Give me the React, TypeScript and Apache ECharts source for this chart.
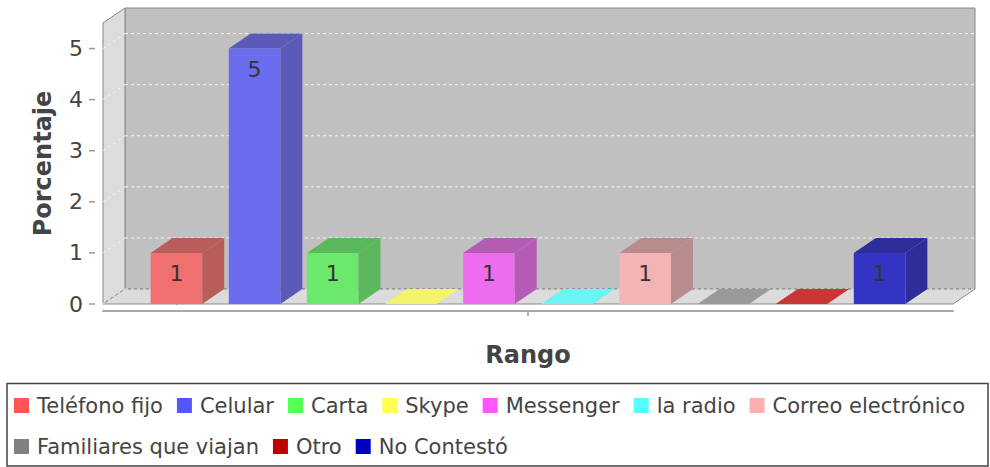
import React, { useEffect, useRef } from "react";
import * as echarts from "echarts";

const SERIES_NAMES = [
  "Teléfono fijo",
  "Celular",
  "Carta",
  "Skype",
  "Messenger",
  "la radio",
  "Correo electrónico",
  "Familiares que viajan",
  "Otro",
  "No Contestó",
];
const VALUES = [1, 5, 1, 0, 1, 0, 1, 0, 0, 1];
const Y_TICKS = [0, 1, 2, 3, 4, 5];
const X_TITLE = "Rango";
const Y_TITLE = "Porcentaje";

const LEGEND_COLORS = ["#FF5555", "#5555FF", "#55FF55", "#FFFF55", "#FF55FF", "#55FFFF", "#FFAFAF", "#808080", "#C00000", "#0000C0"];
const FRONT_COLORS = ["#F07070", "#6C6CF0", "#6CE86C", "#F4F46C", "#EE6CEE", "#6CF4F4", "#F2B4B4", "#9A9A9A", "#C83636", "#3434C4"];
const DARK_COLORS = ["#B85C5C", "#5A5AB8", "#5CB85C", "#B8B85C", "#B45CB4", "#5CB8B8", "#B88C8C", "#7A7A7A", "#9A2E2E", "#2E2E9A"];

const XMIN = -0.94;
const XMAX = 9.94;
const YMAX = 5.5;
const DX = 22;
const DY = -15;
const HALF_W = 0.33;
const FONT = "DejaVu Sans";

export default function App() {
  const ref = useRef<HTMLDivElement>(null);
  useEffect(() => {
    const chart = echarts.init(ref.current!, null, { renderer: "svg" });

    const wallSeries: any = {
      type: "custom",
      z: 1,
      silent: true,
      data: [[0, 0]],
      renderItem: (params: any, api: any) => {
        const fl = api.coord([XMIN, 0]);
        const tr = api.coord([XMAX, YMAX]);
        const children: any[] = [];
        children.push({
          type: "rect",
          shape: { x: fl[0] + DX, y: tr[1] + DY, width: tr[0] - fl[0], height: fl[1] - tr[1] },
          style: { fill: "#C0C0C0", stroke: "#888", lineWidth: 1 },
        });
        children.push({
          type: "polygon",
          shape: { points: [[fl[0], tr[1]], [fl[0] + DX, tr[1] + DY], [fl[0] + DX, fl[1] + DY], [fl[0], fl[1]]] },
          style: { fill: "#DCDCDC", stroke: "#888", lineWidth: 1 },
        });
        children.push({
          type: "polygon",
          shape: { points: [[fl[0], fl[1]], [fl[0] + DX, fl[1] + DY], [tr[0] + DX, fl[1] + DY], [tr[0], fl[1]]] },
          style: { fill: "#DCDCDC", stroke: "#888", lineWidth: 1 },
        });
        Y_TICKS.forEach((v) => {
          const y = api.coord([XMIN, v])[1];
          children.push({
            type: "line",
            shape: { x1: fl[0] + DX, y1: y + DY, x2: tr[0] + DX, y2: y + DY },
            style: { stroke: "#F4F4F4", lineWidth: 1, lineDash: [3, 3] },
          });
          children.push({
            type: "line",
            shape: { x1: fl[0], y1: y, x2: fl[0] + DX, y2: y + DY },
            style: { stroke: "#F4F4F4", lineWidth: 1, lineDash: [3, 3] },
          });
          children.push({
            type: "line",
            shape: { x1: fl[0] - 14, y1: y, x2: fl[0] - 8, y2: y },
            style: { stroke: "#999", lineWidth: 1.5 },
          });
        });
        const cx = api.coord([(XMIN + XMAX) / 2, 0])[0];
        children.push({
          type: "line",
          shape: { x1: cx, y1: fl[1] + 7, x2: cx, y2: fl[1] + 12 },
          style: { stroke: "#999", lineWidth: 1.5 },
        });
        return { type: "group", children };
      },
    };

    const barSeries = SERIES_NAMES.map((name, i) => ({
      type: "custom",
      name,
      z: 2,
      itemStyle: { color: LEGEND_COLORS[i] },
      data: [[i, VALUES[i]]],
      renderItem: (params: any, api: any) => {
        const x = api.value(0);
        const v = api.value(1);
        const p0 = api.coord([x - HALF_W, 0]);
        const p1 = api.coord([x + HALF_W, v]);
        const children: any[] = [];
        if (v > 0) {
          children.push({
            type: "rect",
            shape: { x: p0[0], y: p1[1], width: p1[0] - p0[0], height: p0[1] - p1[1] },
            style: { fill: FRONT_COLORS[i] },
          });
          children.push({
            type: "polygon",
            shape: { points: [[p1[0], p1[1]], [p1[0] + DX, p1[1] + DY], [p1[0] + DX, p0[1] + DY], [p1[0], p0[1]]] },
            style: { fill: DARK_COLORS[i] },
          });
        }
        children.push({
          type: "polygon",
          shape: { points: [[p0[0], p1[1]], [p0[0] + DX, p1[1] + DY], [p1[0] + DX, p1[1] + DY], [p1[0], p1[1]]] },
          style: { fill: v > 0 ? DARK_COLORS[i] : FRONT_COLORS[i] },
        });
        if (v > 0) {
          children.push({
            type: "text",
            style: {
              text: String(v),
              x: (p0[0] + p1[0]) / 2,
              y: p1[1] + 21,
              align: "center",
              verticalAlign: "middle",
              fill: "#333",
              font: `22px '${FONT}'`,
            },
          });
        }
        return { type: "group", children };
      },
    }));

    const legendCommon = {
      orient: "horizontal",
      left: 14,
      width: 975,
      padding: 0,
      itemWidth: 15,
      itemHeight: 15,
      itemGap: 14,
      icon: "rect",
      selectedMode: false,
      textStyle: { fontSize: 21, color: "#444", fontFamily: FONT, padding: [0, 0, 0, 3] },
    };

    chart.setOption({
      animation: false,
      backgroundColor: "#fff",
      grid: { left: 103, right: 37, top: 23, bottom: 163 },
      xAxis: {
        type: "value",
        min: XMIN,
        max: XMAX,
        offset: 7,
        axisLine: { show: true, onZero: false, lineStyle: { color: "#A8A8A8", width: 2 } },
        axisTick: { show: false },
        axisLabel: { show: false },
        splitLine: { show: false },
        name: X_TITLE,
        nameLocation: "middle",
        nameGap: 32,
        nameTextStyle: { fontSize: 24, fontWeight: "bold", color: "#444", fontFamily: FONT },
      },
      yAxis: {
        type: "value",
        min: 0,
        max: YMAX,
        interval: 1,
        offset: 8,
        axisLine: { show: true, lineStyle: { color: "#999", width: 2 } },
        axisTick: { show: false },
        splitLine: { show: false },
        axisLabel: { fontSize: 22, color: "#444", fontFamily: FONT, margin: 12, showMaxLabel: false },
        name: Y_TITLE,
        nameLocation: "middle",
        nameRotate: 90,
        nameGap: 40,
        nameTextStyle: { fontSize: 24, fontWeight: "bold", color: "#444", fontFamily: FONT },
      },
      legend: [
        { ...legendCommon, top: 395, data: SERIES_NAMES.slice(0, 7) },
        { ...legendCommon, top: 436, data: SERIES_NAMES.slice(7) },
      ],
      graphic: [
        {
          type: "rect",
          shape: { x: 7, y: 383.5, width: 981, height: 82.5 },
          style: { fill: "none", stroke: "#444", lineWidth: 1.5 },
          silent: true,
        },
      ],
      series: [wallSeries, ...barSeries],
    });
    return () => chart.dispose();
  }, []);
  return <div ref={ref} style={{ position: "fixed", left: 0, top: 0, width: 990, height: 467 }} />;
}
